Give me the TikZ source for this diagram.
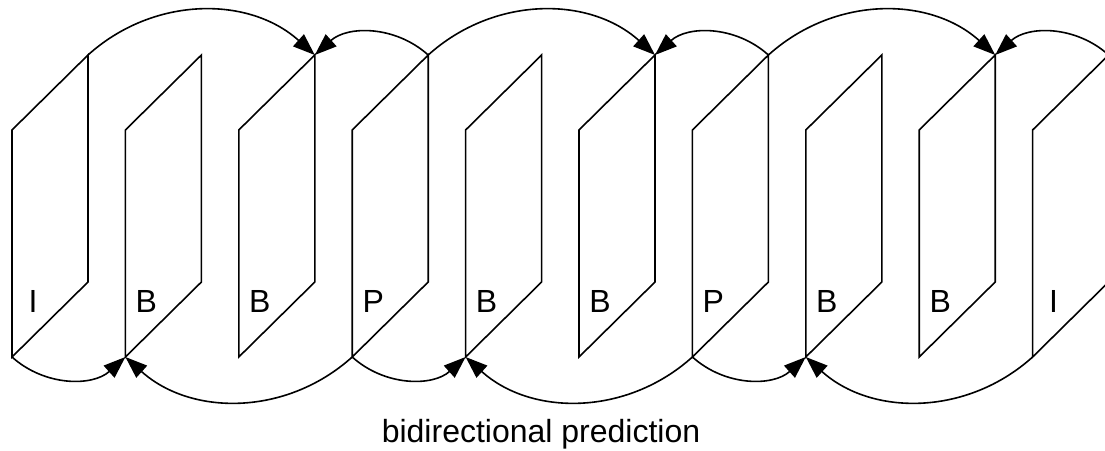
\documentclass[tikz,border=0pt]{standalone}
\usepackage{fontspec}
\setmainfont{Liberation Sans}
\usepackage{tikz}
\usetikzlibrary{arrows.meta}

\begin{document}
\begin{tikzpicture}[
  x=1pt, y=1pt,
  frame/.style={draw, line width=1.6pt, line join=miter},
  pred/.style={-{Triangle[length=22pt, width=16pt]}, line width=1.6pt},
  lbl/.style={font=\fontsize{32}{38}\selectfont, anchor=base, inner sep=0pt},
]
  \path[use as bounding box, clip] (0,0) rectangle (1105,450);

  % Frames
  \foreach \t [count=\i] in {I,B,B,P,B,B,P,B,B,I} {
    \pgfmathsetmacro\fx{12+113.4*(\i-1)}
    \coordinate (tr\i) at (\fx+76,395);
    \coordinate (bl\i) at (\fx,93);
    \draw[frame] (\fx,320) -- (tr\i) -- (\fx+76,168) -- (bl\i) -- cycle;
    \node[lbl] (lbl\i) at (\fx+21,138) {\t};
  }

  % Top arcs
  \draw[pred] (tr1) to[bend left=42] (tr3);
  \draw[pred] (tr4) to[bend right=42] (tr3);
  \draw[pred] (tr4) to[bend left=42] (tr6);
  \draw[pred] (tr7) to[bend right=42] (tr6);
  \draw[pred] (tr7) to[bend left=42] (tr9);
  \draw[pred] (tr10) to[bend right=42] (tr9);

  % Bottom arcs
  \draw[pred] (bl1) to[bend right=42] (bl2);
  \draw[pred] (bl4) to[bend left=42] (bl2);
  \draw[pred] (bl4) to[bend right=42] (bl5);
  \draw[pred] (bl7) to[bend left=42] (bl5);
  \draw[pred] (bl7) to[bend right=42] (bl8);
  \draw[pred] (bl10) to[bend left=42] (bl8);

  % Caption
  \node[lbl] (caption) at (541,8) {bidirectional prediction};
\end{tikzpicture}
\end{document}
